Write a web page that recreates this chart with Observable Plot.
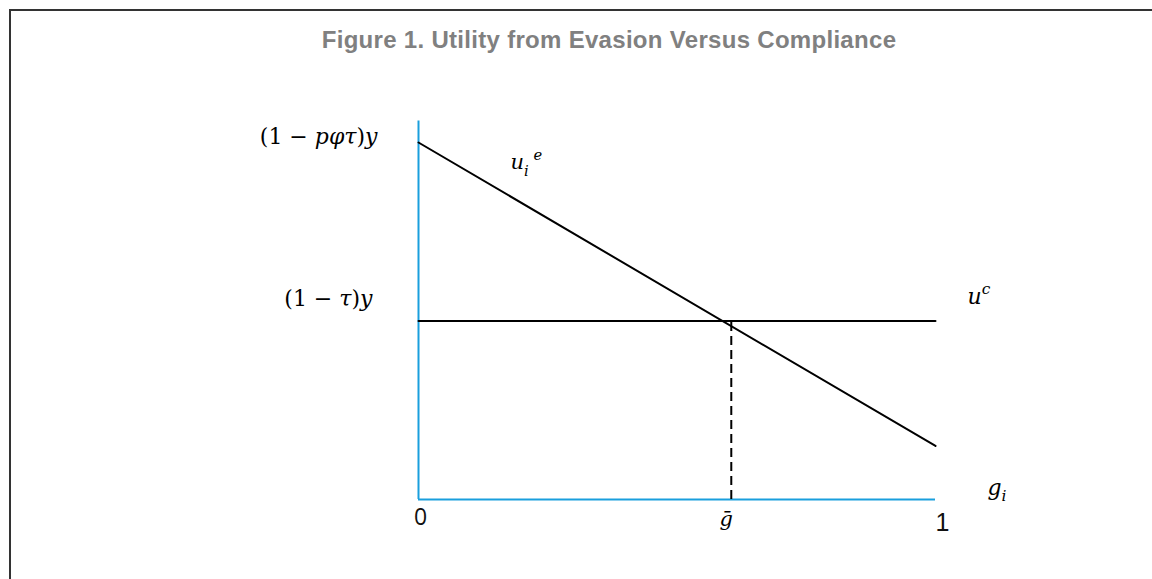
<!DOCTYPE html>
<html>
<head>
<meta charset="utf-8">
<script src="https://cdn.jsdelivr.net/npm/d3@7"></script>
<script src="https://cdn.jsdelivr.net/npm/@observablehq/plot@0.6"></script>
<style>
  html, body { margin: 0; padding: 0; background: #fff; overflow: hidden; }
  #wrap { position: relative; width: 1152px; height: 579px; }
  #frame { position: absolute; left: 9px; top: 9px; width: 1300px; height: 700px;
           border-left: 2px solid #333; border-top: 2px solid #333; box-sizing: border-box; pointer-events: none; }
  #title { position: relative; width: 1218px; height: 60px; box-sizing: border-box; padding-top: 27px;
           text-align: center; font: bold 24px "Liberation Sans", Arial, sans-serif; letter-spacing: 0.3px;
           color: #808080; line-height: 26px; }
  svg { display: block; }
</style>
</head>
<body>
<div id="wrap">
  <div id="frame"></div>
  <div id="title">Figure 1. Utility from Evasion Versus Compliance</div>
  <div id="chart"></div>
</div>
<script>
// ---- data ----
const gValues = [0, 1];                 // share of evaders g_i
const evasionUtility = [1.0, 0.15];     // u_i^e at g = 0 and g = 1
const complianceUtility = [0.5, 0.5];   // u^c (flat)
const gBar = 0.605;                     // threshold ḡ
const yAxisTop = 1.06;
const yTickValues = [1.0, 0.5];
const yTickLabels = ["(1 − pφτ)y", "(1 − τ)y"];
const xTickValues = [0, 1];
const xTickLabels = ["0", "1"];
const curveLabels = ["u_i^e", "u^c"];
const axisLabel = "g_i";
const gBarLabel = "ḡ";

const blue = "#1a9fdd";
const mathFont = "DejaVu Serif, serif";

const evasion = gValues.map((g, i) => ({g, u: evasionUtility[i]}));
const compliance = gValues.map((g, i) => ({g, u: complianceUtility[i]}));

const chart = Plot.plot({
  width: 1152,
  height: 519,
  x: {domain: [0, 1], range: [418, 935], axis: null},
  y: {domain: [0, 1], range: [439, 82], axis: null},
  marks: [
    // axes (blue)
    Plot.ruleX([0], {y1: 0, y2: yAxisTop, stroke: blue, strokeWidth: 2}),
    Plot.ruleY([0], {x1: 0, x2: 1, stroke: blue, strokeWidth: 2}),
    // dashed threshold
    Plot.ruleX([gBar], {y1: 0, y2: complianceUtility[0], stroke: "#000", strokeWidth: 2, strokeDasharray: "9,5"}),
    // utility lines
    Plot.line(compliance, {x: "g", y: "u", stroke: "#000", strokeWidth: 2}),
    Plot.line(evasion, {x: "g", y: "u", stroke: "#000", strokeWidth: 2}),
    // y labels
    Plot.text([0], {x: 0, y: yTickValues[0], text: () => yTickLabels[0], textAnchor: "end", dx: -41, dy: -6,
      fontFamily: mathFont, fontSize: 22, fill: "#000"}),
    Plot.text([0], {x: 0, y: yTickValues[1], text: () => yTickLabels[1], textAnchor: "end", dx: -46, dy: -22,
      fontFamily: mathFont, fontSize: 22, fill: "#000"}),
    // x tick labels
    Plot.text([0], {x: xTickValues[0], y: 0, text: () => xTickLabels[0], dx: 2, dy: 18,
      fontFamily: "Open Sans, sans-serif", fontSize: 23, fill: "#111"}),
    Plot.text([0], {x: xTickValues[1], y: 0, text: () => xTickLabels[1], dx: 7, dy: 23,
      fontFamily: "Liberation Sans, Arial, sans-serif", fontSize: 25, fill: "#111"}),
    Plot.text([0], {x: gBar, y: 0, text: () => gBarLabel, dx: -5, dy: 20,
      fontFamily: mathFont, fontSize: 21, fill: "#000"}),
    // curve labels
    Plot.text([0], {x: 0, y: evasionUtility[0], text: () => curveLabels[0], textAnchor: "start", dx: 92, dy: 20,
      fontFamily: mathFont, fontSize: 21, fill: "#000"}),
    Plot.text([0], {x: 1, y: complianceUtility[1], text: () => curveLabels[1], textAnchor: "start", dx: 32, dy: -24,
      fontFamily: mathFont, fontSize: 22, fill: "#000"}),
    Plot.text([0], {x: 1, y: 0, text: () => axisLabel, textAnchor: "start", dx: 52, dy: -12,
      fontFamily: mathFont, fontSize: 22, fill: "#000"})
  ]
});
document.getElementById("chart").appendChild(chart);

// rich math formatting (italic variables, sub/superscripts)
const rich = {
  "(1 − pφτ)y": [["(1 − ", ""], ["pφτ", "i"], [")", ""], ["y", "i"]],
  "(1 − τ)y": [["(1 − ", ""], ["τ", "i"], [")", ""], ["y", "i"]],
  "u_i^e": [["u", "i"], ["i", "i sub"], [" e", "i sup"]],
  "u^c": [["u", "i"], ["c", "i sup"]],
  "g_i": [["g", "i"], ["i", "i sub"]],
  "ḡ": [["ḡ", "i"]]
};
const ns = "http://www.w3.org/2000/svg";
d3.select(chart).selectAll("text").each(function () {
  const segs = rich[this.textContent];
  if (!segs) return;
  const base = parseFloat(this.parentNode.getAttribute("font-size")) || 22;
  while (this.firstChild) this.removeChild(this.firstChild);
  let shift = 0;
  for (const [t, style] of segs) {
    const ts = document.createElementNS(ns, "tspan");
    ts.textContent = t;
    if (style.includes("i")) ts.setAttribute("font-style", "italic");
    const target = style.includes("sub") ? 0.3 : style.includes("sup") ? -0.45 : 0;
    if (target !== 0) ts.setAttribute("font-size", (base * 0.7) + "px");
    if (target !== shift) ts.setAttribute("dy", ((target - shift) * base) + "px");
    shift = target;
    this.appendChild(ts);
  }
});
</script>
</body>
</html>
